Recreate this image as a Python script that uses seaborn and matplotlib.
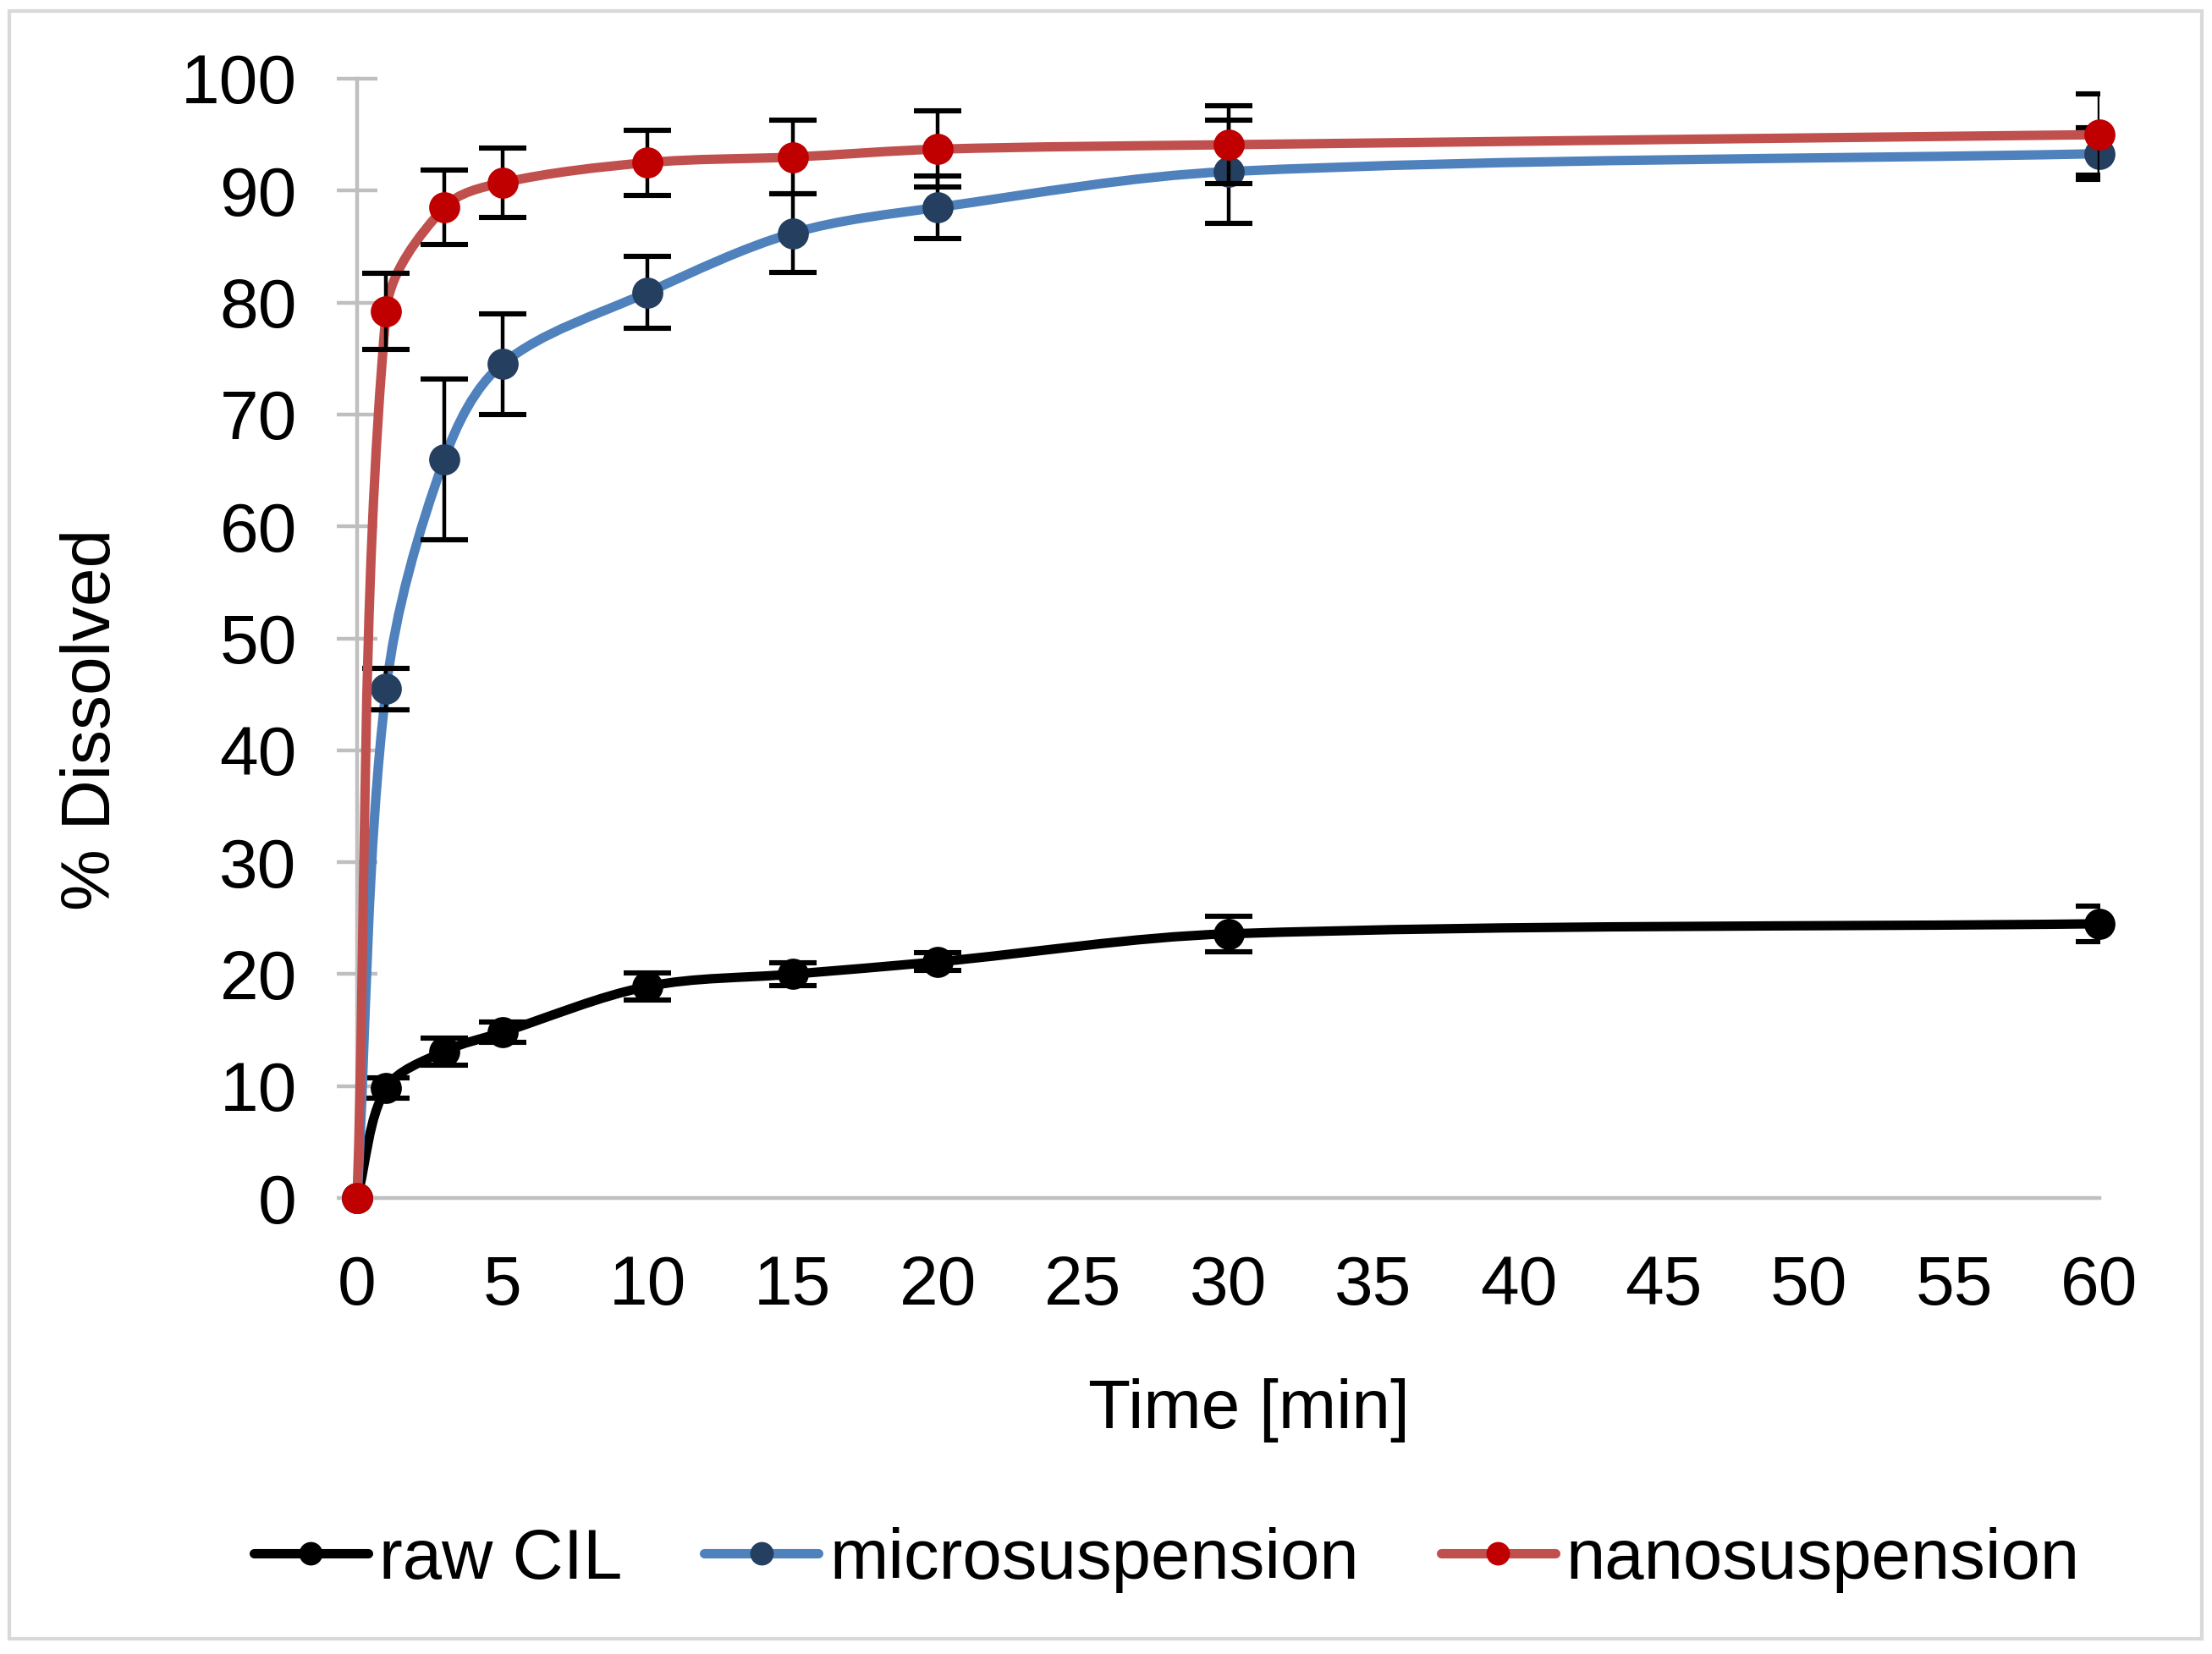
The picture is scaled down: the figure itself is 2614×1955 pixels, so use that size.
import matplotlib
matplotlib.use("Agg")
import matplotlib.pyplot as plt
from matplotlib.path import Path
from matplotlib.patches import PathPatch, Rectangle
from matplotlib.lines import Line2D
import seaborn as sns
import numpy as np

# dissolution data
time_min = [0, 1, 3, 5, 10, 15, 20, 30, 60]
raw_cil = [0, 9.8, 13.1, 14.8, 18.9, 20.0, 21.1, 23.6, 24.5]
raw_cil_sd = [0, 0.9, 1.2, 0.9, 1.2, 1.0, 0.8, 1.6, 1.6]
micro = [0, 45.5, 66.0, 74.5, 80.9, 86.2, 88.5, 91.7, 93.3]
micro_sd = [0, 1.85, 7.2, 4.5, 3.2, 3.5, 2.8, 4.6, 2.3]
nano = [0, 79.2, 88.5, 90.7, 92.5, 93.0, 93.7, 94.1, 95.0]
nano_sd = [0, 3.4, 3.3, 3.1, 2.9, 3.3, 3.4, 3.45, 3.65]

labels = ["raw CIL", "microsuspension", "nanosuspension"]
line_colors = ["#000000", "#4F81BD", "#C0504D"]
marker_colors = ["#000000", "#243F60", "#C00000"]
y_ticks = list(range(0, 101, 10))
x_ticks = list(range(0, 61, 5))

# rough pixel size of one data unit, used only to shape the smoothing
PX_X, PX_Y = 34.3, 13.2


def smooth_path(x, y):
    # smoothed line: cubic bezier through the data points, tangents
    # scaled by neighbouring segment lengths (measured on screen)
    pts = np.column_stack([x, y]).astype(float)
    scr = pts * [PX_X, PX_Y]
    n = len(pts)
    tang = []
    for i in range(n):
        a = scr[i - 1] if i > 0 else scr[i]
        b = scr[i + 1] if i < n - 1 else scr[i]
        tang.append(b - a)
    verts = [pts[0]]
    codes = [Path.MOVETO]
    for i in range(n - 1):
        d = np.linalg.norm(scr[i + 1] - scr[i])
        d_prev = np.linalg.norm(scr[i] - scr[i - 1]) if i > 0 else 0.0
        d_next = np.linalg.norm(scr[i + 2] - scr[i + 1]) if i + 2 < n else 0.0
        k1 = d / (d + d_prev) if i > 0 else 1.0
        k2 = d / (d + d_next) if i + 2 < n else 1.0
        c1 = (scr[i] + tang[i] * k1 / 3) / [PX_X, PX_Y]
        c2 = (scr[i + 1] - tang[i + 1] * k2 / 3) / [PX_X, PX_Y]
        verts += [c1, c2, pts[i + 1]]
        codes += [Path.CURVE4] * 3
    return Path(verts, codes)


sns.set_theme(style="white")
plt.rcParams["font.family"] = ["Liberation Sans", "DejaVu Sans"]
plt.rcParams["text.color"] = "black"
fs = 29.5

fig = plt.figure(figsize=(13.07, 9.775), dpi=200)
ax = fig.add_axes([0.16144, 0.2757, 0.78768, 0.67673])

series = [(raw_cil, raw_cil_sd), (micro, micro_sd), (nano, nano_sd)]
for k, (vals, sd) in enumerate(series):
    z = 3 + k * 3
    patch = PathPatch(smooth_path(time_min, vals), facecolor="none",
                      edgecolor=line_colors[k], lw=4.0, capstyle="round",
                      joinstyle="round", zorder=z, clip_on=False)
    ax.add_patch(patch)
    ax.errorbar(time_min[1:], vals[1:], yerr=sd[1:], fmt="none", ecolor="black",
                elinewidth=1.6, capsize=10, capthick=2.2, zorder=z + 1)
    sns.scatterplot(x=time_min, y=vals, color=marker_colors[k], s=175,
                    edgecolor=marker_colors[k], linewidth=0, ax=ax,
                    zorder=z + 2, clip_on=False, legend=False)

ax.set_xlim(0, 60)
ax.set_ylim(0, 100)
ax.set_xticks(x_ticks)
ax.set_yticks(y_ticks)
ax.tick_params(axis="x", length=0, pad=24, labelsize=fs, labelcolor="black")
ax.tick_params(axis="y", direction="inout", length=17.3, width=1.6,
               color="#BFBFBF", pad=17, labelsize=fs, labelcolor="black", left=True)
for side in ["top", "right"]:
    ax.spines[side].set_visible(False)
for side in ["left", "bottom"]:
    ax.spines[side].set_color("#BFBFBF")
    ax.spines[side].set_linewidth(1.6)
ax.grid(False)

ax.set_xlabel("Time [min]", fontsize=fs, color="black")
ax.set_ylabel("% Dissolved", fontsize=fs, color="black")
ax.xaxis.set_label_coords(0.512, -0.19)
ax.xaxis.label.set_va("center")
ax.yaxis.set_label_coords(-0.1518, 0.4274)
ax.yaxis.label.set_va("center")

handles = [Line2D([], [], color=line_colors[k], lw=4.0, marker="o",
                  markersize=9, markerfacecolor=marker_colors[k],
                  markeredgecolor=marker_colors[k]) for k in range(3)]
fig.legend(handles, labels, loc="center", bbox_to_anchor=(0.5275, 0.057),
           ncol=3, frameon=False, fontsize=30, handlelength=1.62,
           handletextpad=0.16, columnspacing=1.16, labelcolor="black")

fig.patches.append(Rectangle((0.0042, 0.0092), 0.9912, 0.9842,
                             transform=fig.transFigure, fill=False,
                             edgecolor="#D9D9D9", lw=1.5))

fig.savefig("out.png", dpi=200, facecolor="white")
